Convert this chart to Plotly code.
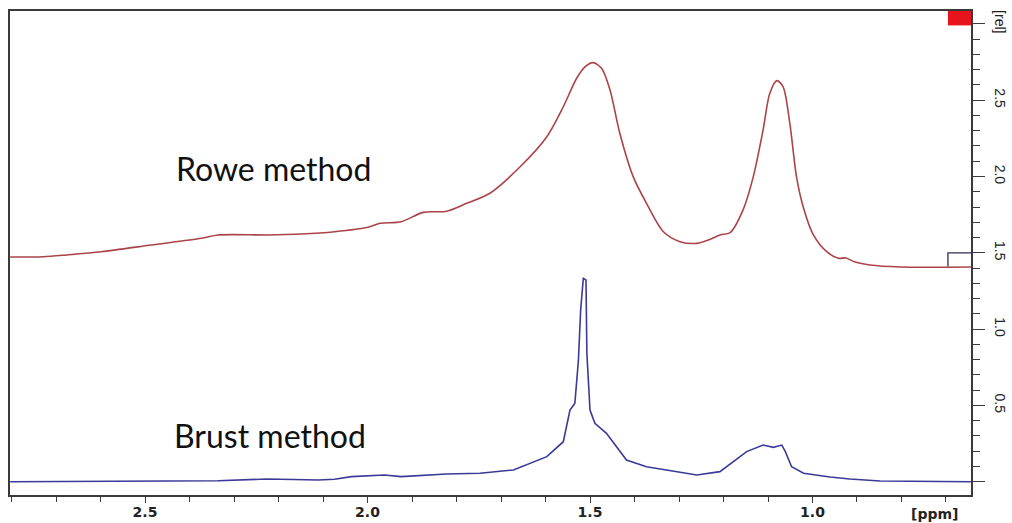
import plotly.graph_objects as go

# Rowe method spectrum (chemical shift in ppm, relative intensity)
rowe_ppm = [2.803, 2.729, 2.676, 2.598, 2.486, 2.373, 2.336, 2.224, 2.149, 2.074,
            1.999, 1.972, 1.924, 1.875, 1.822, 1.777, 1.725, 1.657, 1.597, 1.560,
            1.530, 1.510, 1.493, 1.474, 1.455, 1.433, 1.403, 1.373, 1.335, 1.298,
            1.260, 1.230, 1.208, 1.185, 1.156, 1.133, 1.111, 1.096, 1.080, 1.066,
            1.051, 1.036, 1.021, 0.998, 0.968, 0.942, 0.925, 0.904, 0.871, 0.803,
            0.644]
rowe_int = [1.472, 1.474, 1.486, 1.507, 1.551, 1.595, 1.617, 1.617, 1.623, 1.638,
            1.667, 1.693, 1.704, 1.765, 1.772, 1.824, 1.890, 2.064, 2.261, 2.457,
            2.644, 2.722, 2.746, 2.709, 2.567, 2.283, 1.999, 1.824, 1.638, 1.573,
            1.562, 1.588, 1.617, 1.632, 1.781, 1.999, 2.305, 2.545, 2.628, 2.588,
            2.349, 1.999, 1.802, 1.617, 1.507, 1.464, 1.466, 1.439, 1.420, 1.407,
            1.407]

# Brust method spectrum
brust_ppm = [2.803, 2.600, 2.450, 2.336, 2.224, 2.111, 2.074, 2.036, 1.962, 1.924,
             1.822, 1.747, 1.672, 1.597, 1.560, 1.545, 1.534, 1.526, 1.521, 1.515,
             1.509, 1.507, 1.500, 1.489, 1.463, 1.440, 1.418, 1.373, 1.328, 1.260,
             1.208, 1.178, 1.148, 1.111, 1.088, 1.069, 1.061, 1.047, 1.020, 0.961,
             0.916, 0.848, 0.644]
brust_int = [0.000, 0.002, 0.004, 0.006, 0.018, 0.011, 0.016, 0.033, 0.044, 0.033,
             0.050, 0.055, 0.077, 0.164, 0.262, 0.470, 0.514, 0.797, 1.125, 1.333,
             1.322, 0.841, 0.470, 0.383, 0.317, 0.229, 0.142, 0.098, 0.077, 0.044,
             0.066, 0.131, 0.197, 0.240, 0.225, 0.240, 0.197, 0.098, 0.055, 0.031,
             0.018, 0.005, 0.000]

x_ticks = [2.5, 2.0, 1.5, 1.0]
x_ticktext = ["2.5", "2.0", "1.5", "1.0"]
y_ticks = [0.0, 0.5, 1.0, 1.5, 2.0, 2.5, 3.0]
y_ticktext = ["", "0.5", "1.0", "1.5", "2.0", "2.5", "[rel]"]

frame = "#3a3a3a"

fig = go.Figure()
fig.add_trace(go.Scatter(x=rowe_ppm, y=rowe_int, mode="lines",
                         line=dict(color="#ab4448", width=1.6,
                                   shape="spline", smoothing=0.8),
                         name="Rowe"))
fig.add_trace(go.Scatter(x=brust_ppm, y=brust_int, mode="lines",
                         line=dict(color="#3a3a98", width=1.6),
                         name="Brust"))

fig.update_layout(
    width=1012, height=523,
    margin=dict(l=10, r=41, t=11, b=28),
    paper_bgcolor="white", plot_bgcolor="white",
    showlegend=False,
    xaxis=dict(
        range=[2.8034, 0.6438], automargin=False,
        tickmode="array", tickvals=x_ticks, ticktext=x_ticktext,
        ticks="outside", ticklen=6, tickwidth=1.3, tickcolor=frame,
        minor=dict(dtick=0.1, tick0=0, ticks="outside", ticklen=5,
                   tickwidth=1.3, tickcolor=frame),
        showgrid=False, zeroline=False,
        showline=True, linecolor=frame, linewidth=1.5, mirror=True,
        tickfont=dict(family="DejaVu Sans", size=14, color="#222",
                      weight="bold"),
        ticklabelstandoff=-3,
    ),
    yaxis=dict(
        range=[-0.0872, 3.0845], side="right", automargin=False,
        tickmode="array", tickvals=y_ticks, ticktext=y_ticktext,
        ticks="outside", ticklen=12, tickwidth=1.3, tickcolor=frame,
        minor=dict(dtick=0.1, tick0=0, ticks="outside", ticklen=7,
                   tickwidth=1.3, tickcolor=frame),
        tickangle=90,
        showgrid=False, zeroline=False,
        showline=True, linecolor=frame, linewidth=1.5, mirror=True,
        tickfont=dict(family="Liberation Sans", size=14, color="#222"),
        ticklabelstandoff=5,
    ),
    shapes=[
        dict(type="rect", xref="paper", yref="y", x0=0.976, x1=1.0,
             y0=2.99, y1=3.0845, fillcolor="#e8141c", line=dict(width=0)),
        dict(type="path", xref="paper", yref="y",
             path="M 0.976,1.41 L 0.976,1.5 L 1,1.5",
             line=dict(color="#2c2c5c", width=1.3)),
    ],
    annotations=[
        dict(text="Rowe method", x=2.212, y=2.05, xref="x", yref="y",
             showarrow=False, xanchor="center", yanchor="middle",
             font=dict(family="Lato", size=32, color="#111")),
        dict(text="Brust method", x=2.219, y=0.30, xref="x", yref="y",
             showarrow=False, xanchor="center", yanchor="middle",
             font=dict(family="Lato", size=32, color="#111")),
        dict(text="[ppm]", x=0.725, y=-0.04, xref="x", yref="paper",
             showarrow=False, xanchor="center", yanchor="middle",
             font=dict(family="DejaVu Sans", size=14, color="#222",
                       weight="bold")),
    ],
)

fig.write_html("out.html")
